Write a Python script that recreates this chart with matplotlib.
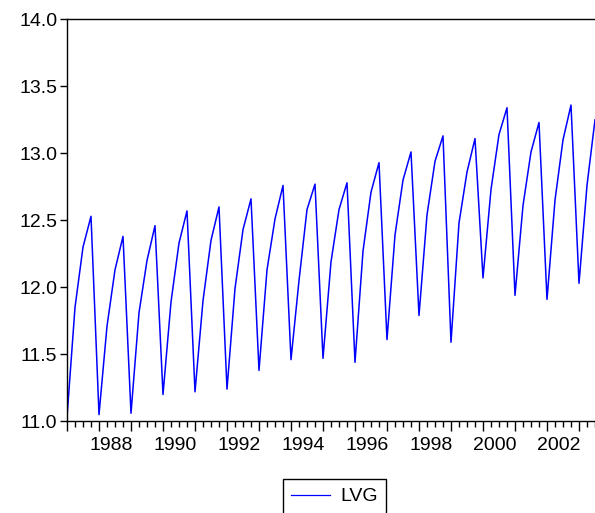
import numpy as np
import matplotlib.pyplot as plt
from matplotlib.lines import Line2D

plt.rcParams['font.family'] = ['Liberation Sans', 'DejaVu Sans']

# quarterly series, 1987Q1 .. 2003Q3
start_year = 1987
lvg = [11.03, 11.85, 12.30, 12.53,
       11.05, 11.71, 12.13, 12.38,
       11.06, 11.81, 12.20, 12.46,
       11.20, 11.89, 12.33, 12.57,
       11.22, 11.90, 12.35, 12.60,
       11.24, 11.99, 12.43, 12.66,
       11.38, 12.13, 12.51, 12.76,
       11.46, 12.05, 12.58, 12.77,
       11.47, 12.19, 12.58, 12.78,
       11.44, 12.27, 12.71, 12.93,
       11.61, 12.39, 12.80, 13.01,
       11.79, 12.54, 12.94, 13.13,
       11.59, 12.48, 12.86, 13.11,
       12.07, 12.73, 13.14, 13.34,
       11.94, 12.61, 13.01, 13.23,
       11.91, 12.65, 13.10, 13.36,
       12.03, 12.76, 13.25]
label_years = list(range(1988, 2003, 2))
yticks = [11.0, 11.5, 12.0, 12.5, 13.0, 13.5, 14.0]

FS = 14
W, H = 595, 513
fig = plt.figure(figsize=(W / 100, H / 100), dpi=100)
ax = fig.add_axes([67 / W, 1 - 421.3 / H, (W - 67) / W, (421.3 - 19.3) / H])

t = np.arange(len(lvg))
ax.plot(t, lvg, color='#0000ff', lw=1.1)

ax.set_xlim(0, len(lvg) - 1)
ax.set_ylim(11.0, 14.0)
ax.spines['right'].set_visible(False)
for s in ('left', 'top', 'bottom'):
    ax.spines[s].set_linewidth(1.0)

ax.set_yticks(yticks)
ax.set_yticklabels(['%.1f' % v for v in yticks], fontsize=FS)
ax.tick_params(axis='y', direction='out', length=5, width=1, pad=2)

# year ticks at each Q1, small ticks at every quarter
ax.set_xticks(np.arange(0, len(lvg), 4))
ax.set_xticklabels([])
ax.set_xticks(t, minor=True)
ax.tick_params(axis='x', which='major', direction='out', length=7, width=1)
ax.tick_params(axis='x', which='minor', direction='out', length=4, width=1)

# year labels sit in the middle of each year's four quarters
for yr in label_years:
    xpos = (yr - start_year) * 4 + 1.5
    ax.text(xpos, -0.04, str(yr), transform=ax.get_xaxis_transform(),
            ha='center', va='top', fontsize=FS)

handle = Line2D([], [], color='#0000ff', lw=0.9)
leg = fig.legend([handle], ['LVG'], loc='upper center',
                 bbox_to_anchor=(334.5 / W, 1 - 479 / H), fontsize=FS,
                 frameon=True, fancybox=False, edgecolor='black',
                 handlelength=2.0, borderpad=0.45, handletextpad=0.5,
                 borderaxespad=0, framealpha=1)
leg.get_frame().set_linewidth(1.0)

fig.savefig('out.png', dpi=100)
